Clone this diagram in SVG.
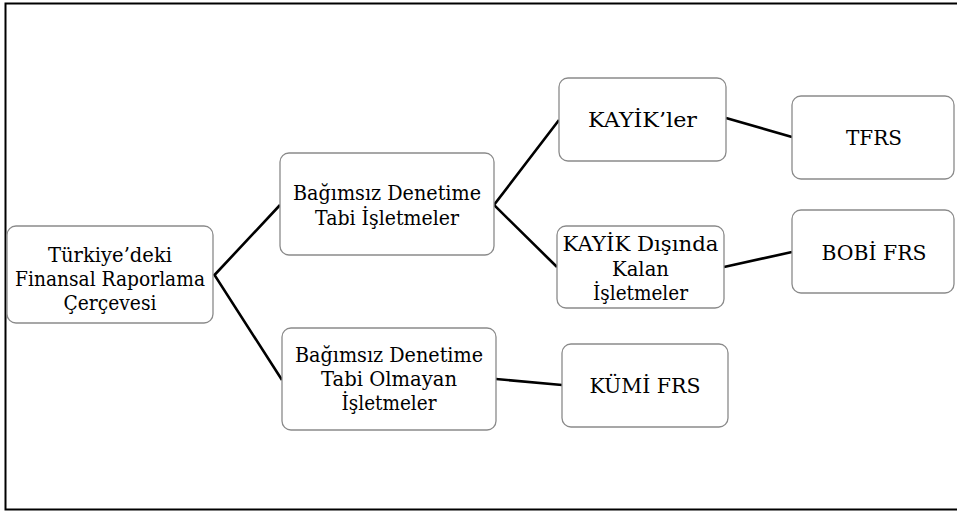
<svg xmlns="http://www.w3.org/2000/svg" width="957" height="511" viewBox="0 0 957 511">
<style>
.box{fill:#fff;stroke:#8a8a8a;stroke-width:1.3}
.t{font-family:'DejaVu Serif','Liberation Serif',serif;font-size:21px;fill:#000;text-anchor:middle}
.c{stroke:#000;stroke-width:2.6;fill:none}
</style>
<rect x="0" y="0" width="957" height="511" fill="#fff"/>
<rect x="5.5" y="3.5" width="960" height="506" fill="none" stroke="#000" stroke-width="2"/>
<g id="connectors">
<polyline class="c" points="280,205 214.5,275 282,380"/>
<polyline class="c" points="559,120 494,205 557,267"/>
<line class="c" x1="726" y1="118" x2="792" y2="137"/>
<line class="c" x1="724" y1="267" x2="792" y2="252"/>
<line class="c" x1="496" y1="379" x2="562" y2="385"/>
</g>
<g id="root">
<rect class="box" x="7" y="226" width="206" height="97" rx="9"/>
<text class="t" x="110" y="262" textLength="124" lengthAdjust="spacingAndGlyphs">Türkiye’deki</text>
<text class="t" x="110" y="286" textLength="190" lengthAdjust="spacingAndGlyphs">Finansal Raporlama</text>
<text class="t" x="110" y="310" textLength="93" lengthAdjust="spacingAndGlyphs">Çerçevesi</text>
</g>
<g id="bagimsiz">
<rect class="box" x="280" y="153" width="214" height="102" rx="9"/>
<text class="t" x="387" y="200" textLength="188" lengthAdjust="spacingAndGlyphs">Bağımsız Denetime</text>
<text class="t" x="387" y="225" textLength="144" lengthAdjust="spacingAndGlyphs">Tabi İşletmeler</text>
</g>
<g id="bagimsiz-olmayan">
<rect class="box" x="282" y="328" width="214" height="102" rx="9"/>
<text class="t" x="389" y="362" textLength="188" lengthAdjust="spacingAndGlyphs">Bağımsız Denetime</text>
<text class="t" x="389" y="386" textLength="136" lengthAdjust="spacingAndGlyphs">Tabi Olmayan</text>
<text class="t" x="389" y="410" textLength="95" lengthAdjust="spacingAndGlyphs">İşletmeler</text>
</g>
<g id="kayik">
<rect class="box" x="559" y="78" width="167" height="83" rx="9"/>
<text class="t" x="642.5" y="127" textLength="109" lengthAdjust="spacingAndGlyphs">KAYİK’ler</text>
</g>
<g id="kayik-disinda">
<rect class="box" x="557" y="226" width="167" height="82" rx="9"/>
<text class="t" x="640.5" y="251" textLength="156" lengthAdjust="spacingAndGlyphs">KAYİK Dışında</text>
<text class="t" x="640.5" y="276" textLength="57" lengthAdjust="spacingAndGlyphs">Kalan</text>
<text class="t" x="640.5" y="300" textLength="95" lengthAdjust="spacingAndGlyphs">İşletmeler</text>
</g>
<g id="tfrs">
<rect class="box" x="792" y="96" width="162" height="83" rx="9"/>
<text class="t" x="874" y="145" textLength="56" lengthAdjust="spacingAndGlyphs">TFRS</text>
</g>
<g id="bobi">
<rect class="box" x="792" y="210" width="162" height="83" rx="9"/>
<text class="t" x="874" y="260" textLength="105" lengthAdjust="spacingAndGlyphs">BOBİ FRS</text>
</g>
<g id="kumi">
<rect class="box" x="562" y="344" width="166" height="83" rx="9"/>
<text class="t" x="645" y="393" textLength="111" lengthAdjust="spacingAndGlyphs">KÜMİ FRS</text>
</g>
</svg>
